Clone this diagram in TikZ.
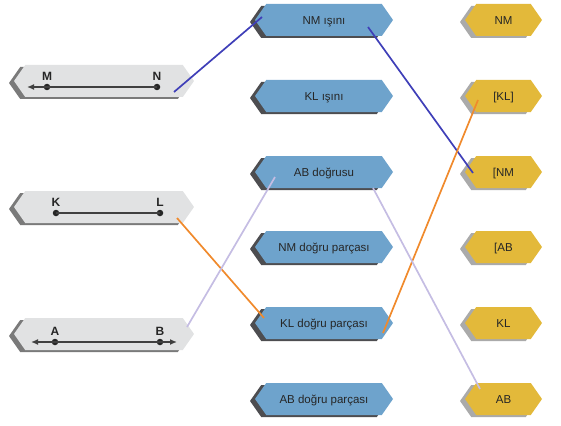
\documentclass[tikz,border=0pt]{standalone}
\usepackage{fontspec}
\setmainfont{Liberation Sans}
\usetikzlibrary{shapes.symbols,shadows,arrows.meta,calc}
\definecolor{boxblue}{HTML}{6EA3CC}
\definecolor{boxyellow}{HTML}{E3B93A}
\definecolor{boxgray}{HTML}{E1E2E3}
\definecolor{shadedark}{HTML}{4D4D50}
\definecolor{shadegray}{HTML}{7A7A7A}
\definecolor{shadelight}{HTML}{AAAAAA}
\definecolor{joinblue}{HTML}{3F3FB8}
\definecolor{joinorange}{HTML}{F08A2C}
\definecolor{joinlilac}{HTML}{C5BDE3}

\begin{document}
\begin{tikzpicture}[x=1pt,y=-1pt,
    hexbox/.style={signal, signal to=east and west, signal pointer angle=110,
        minimum height=32pt, inner sep=0pt, text=black!85,
        text height=8.3pt, text depth=0pt,
        font=\fontsize{11.5}{13}\selectfont},
    figbox/.style={hexbox, fill=boxgray, minimum width=180pt,
        general shadow={fill=shadegray, shadow xshift=-5pt, shadow yshift=-2pt}},
    namebox/.style={hexbox, fill=boxblue, minimum width=138pt,
        general shadow={fill=shadedark, shadow xshift=-5pt, shadow yshift=-2pt}},
    symbox/.style={hexbox, fill=boxyellow, minimum width=77pt,
        general shadow={fill=shadelight, shadow xshift=-5pt, shadow yshift=-2pt}},
    endpt/.style={circle, fill=black!85, inner sep=0pt, minimum size=6.5pt},
    ptlabel/.style={font=\bfseries\fontsize{12}{14}\selectfont, text=black!85},
    figline/.style={black!75, line width=1.5pt},
    matchline/.style={line width=1.7pt}
]
    \useasboundingbox (0,0) rectangle (561,425);

    % Figures on the left
    \node[figbox] (lMN) at (104,81) {};
    \node[figbox] (lKL) at (104,207) {};
    \node[figbox] (lAB) at (104,334) {};

    % Ray NM
    \node[endpt, label={[ptlabel]above:M}] (M) at (47,87) {};
    \node[endpt, label={[ptlabel]above:N}] (N) at (157,87) {};
    \coordinate (mnTip) at (27,87);
    \draw[figline, -{Latex[length=7pt,width=6pt]}] (N.center) -- (mnTip);

    % Segment KL
    \node[endpt, label={[ptlabel]above:K}] (K) at (56,213) {};
    \node[endpt, label={[ptlabel]above:L}] (L) at (160,213) {};
    \draw[figline] (K.center) -- (L.center);

    % Line AB
    \node[endpt, label={[ptlabel]above:A}] (A) at (55,342) {};
    \node[endpt, label={[ptlabel]above:B}] (B) at (160,342) {};
    \coordinate (abTipL) at (31,342);
    \coordinate (abTipR) at (177,342);
    \draw[figline, {Latex[length=7pt,width=6pt]}-{Latex[length=7pt,width=6pt]}] (abTipL) -- (abTipR);

    % Names in the middle
    \node[namebox] (bNMi) at (324,20) {NM ışını};
    \node[namebox] (bKLi) at (324,96) {KL ışını};
    \node[namebox] (bABd) at (324,172) {AB doğrusu};
    \node[namebox] (bNMp) at (324,247) {NM doğru parçası};
    \node[namebox] (bKLp) at (324,323) {KL doğru parçası};
    \node[namebox] (bABp) at (324,399) {AB doğru parçası};

    % Symbols on the right
    \node[symbox] (yNM) at (503.5,20) {NM};
    \node[symbox] (yKLb) at (503.5,96) {[KL]};
    \node[symbox] (yNMo) at (503.5,172) {[NM};
    \node[symbox] (yABo) at (503.5,247) {[AB};
    \node[symbox] (yKL) at (503.5,323) {KL};
    \node[symbox] (yAB) at (503.5,399) {AB};

    % Matching lines
    \draw[matchline, joinblue] ($(lMN)+(70,11)$) -- ($(bNMi)+(-62,-3)$);
    \draw[matchline, joinblue] ($(bNMi)+(44,7)$) -- ($(yNMo)+(-30.5,1)$);
    \draw[matchline, joinorange] ($(lKL)+(73,11)$) -- ($(bKLp)+(-60,-5)$);
    \draw[matchline, joinorange] ($(bKLp)+(59,10)$) -- ($(yKLb)+(-25.5,4)$);
    \draw[matchline, joinlilac] ($(lAB)+(83,-7)$) -- ($(bABd)+(-49,5)$);
    \draw[matchline, joinlilac] ($(bABd)+(49,16)$) -- ($(yAB)+(-23.5,-10)$);
\end{tikzpicture}
\end{document}
